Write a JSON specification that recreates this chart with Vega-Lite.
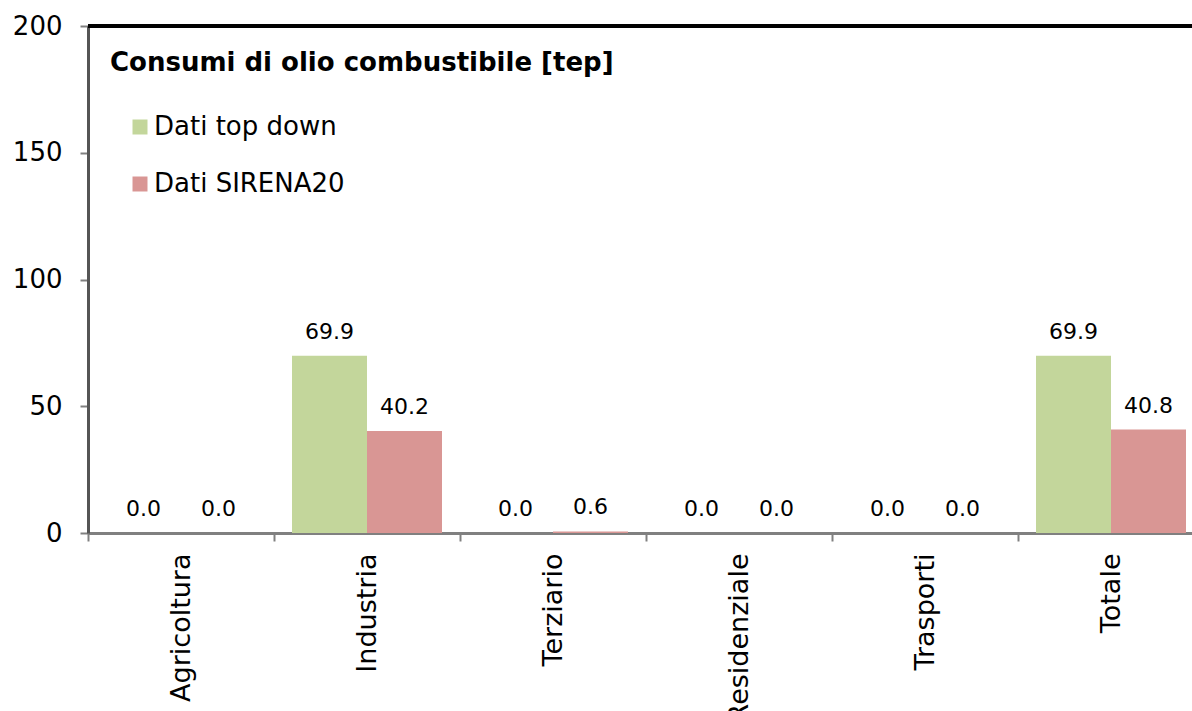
{
  "$schema": "https://vega.github.io/schema/vega-lite/v6.json",
  "width": 1104,
  "height": 507,
  "autosize": {"type": "none"},
  "padding": {"left": 88, "top": 26, "right": 0, "bottom": 178},
  "background": "white",
  "title": {
    "text": "Consumi di olio combustibile [tep]",
    "anchor": "start",
    "frame": "group",
    "dx": 22,
    "dy": 67,
    "font": "DejaVu Sans",
    "fontSize": 26,
    "fontWeight": "bold",
    "color": "black"
  },
  "data": {
    "values": [
      {"settore": "Agricoltura", "serie": "Dati top down", "valore": 0.0},
      {"settore": "Agricoltura", "serie": "Dati SIRENA20", "valore": 0.0},
      {"settore": "Industria", "serie": "Dati top down", "valore": 69.9},
      {"settore": "Industria", "serie": "Dati SIRENA20", "valore": 40.2},
      {"settore": "Terziario", "serie": "Dati top down", "valore": 0.0},
      {"settore": "Terziario", "serie": "Dati SIRENA20", "valore": 0.6},
      {"settore": "Residenziale", "serie": "Dati top down", "valore": 0.0},
      {"settore": "Residenziale", "serie": "Dati SIRENA20", "valore": 0.0},
      {"settore": "Trasporti", "serie": "Dati top down", "valore": 0.0},
      {"settore": "Trasporti", "serie": "Dati SIRENA20", "valore": 0.0},
      {"settore": "Totale", "serie": "Dati top down", "valore": 69.9},
      {"settore": "Totale", "serie": "Dati SIRENA20", "valore": 40.8}
    ]
  },
  "encoding": {
    "x": {
      "field": "settore",
      "type": "nominal",
      "sort": null,
      "scale": {"range": [0, 1116], "paddingInner": 0, "paddingOuter": 0},
      "axis": {
        "title": null,
        "labelAngle": -90,
        "labelAlign": "right",
        "labelBaseline": "middle",
        "labelFont": "DejaVu Sans",
        "labelFontSize": 27,
        "labelColor": "black",
        "labelPadding": 12,
        "labelLimit": 300,
        "tickBand": "extent",
        "tickSize": 8,
        "tickColor": "#808080",
        "tickWidth": 2,
        "domainColor": "#808080",
        "domainWidth": 3
      }
    },
    "xOffset": {
      "field": "serie",
      "sort": ["Dati top down", "Dati SIRENA20"],
      "scale": {"paddingInner": 0, "paddingOuter": 0.24}
    },
    "y": {
      "field": "valore",
      "type": "quantitative",
      "scale": {"domain": [0, 200], "nice": false},
      "axis": {
        "title": null,
        "values": [0, 50, 100, 150, 200],
        "grid": false,
        "labelFont": "DejaVu Sans",
        "labelFontSize": 26,
        "labelColor": "black",
        "labelPadding": 18,
        "tickSize": 8,
        "tickColor": "#808080",
        "tickWidth": 2,
        "domainColor": "#555555",
        "domainWidth": 3
      }
    }
  },
  "layer": [
    {
      "mark": {"type": "bar"},
      "encoding": {
        "color": {
          "field": "serie",
          "type": "nominal",
          "sort": ["Dati top down", "Dati SIRENA20"],
          "scale": {"domain": ["Dati top down", "Dati SIRENA20"], "range": ["#c3d69b", "#d99694"]},
          "legend": {
            "title": null,
            "orient": "none",
            "legendX": 39,
            "legendY": 88,
            "symbolType": "square",
            "symbolSize": 225,
            "symbolStrokeWidth": 0,
            "labelFont": "DejaVu Sans",
            "labelFontSize": 26,
            "labelColor": "black",
            "labelOffset": 1,
            "labelLimit": 400,
            "rowPadding": 31
          }
        }
      }
    },
    {
      "mark": {"type": "text", "baseline": "bottom", "dy": -12, "font": "DejaVu Sans", "fontSize": 22, "color": "black"},
      "encoding": {
        "text": {"field": "valore", "type": "quantitative", "format": ".1f"}
      }
    },
    {
      "mark": {"type": "rule", "color": "black", "strokeWidth": 3},
      "encoding": {"y": {"datum": 200}, "x": null, "xOffset": null}
    }
  ],
  "config": {"view": {"stroke": null}}
}
